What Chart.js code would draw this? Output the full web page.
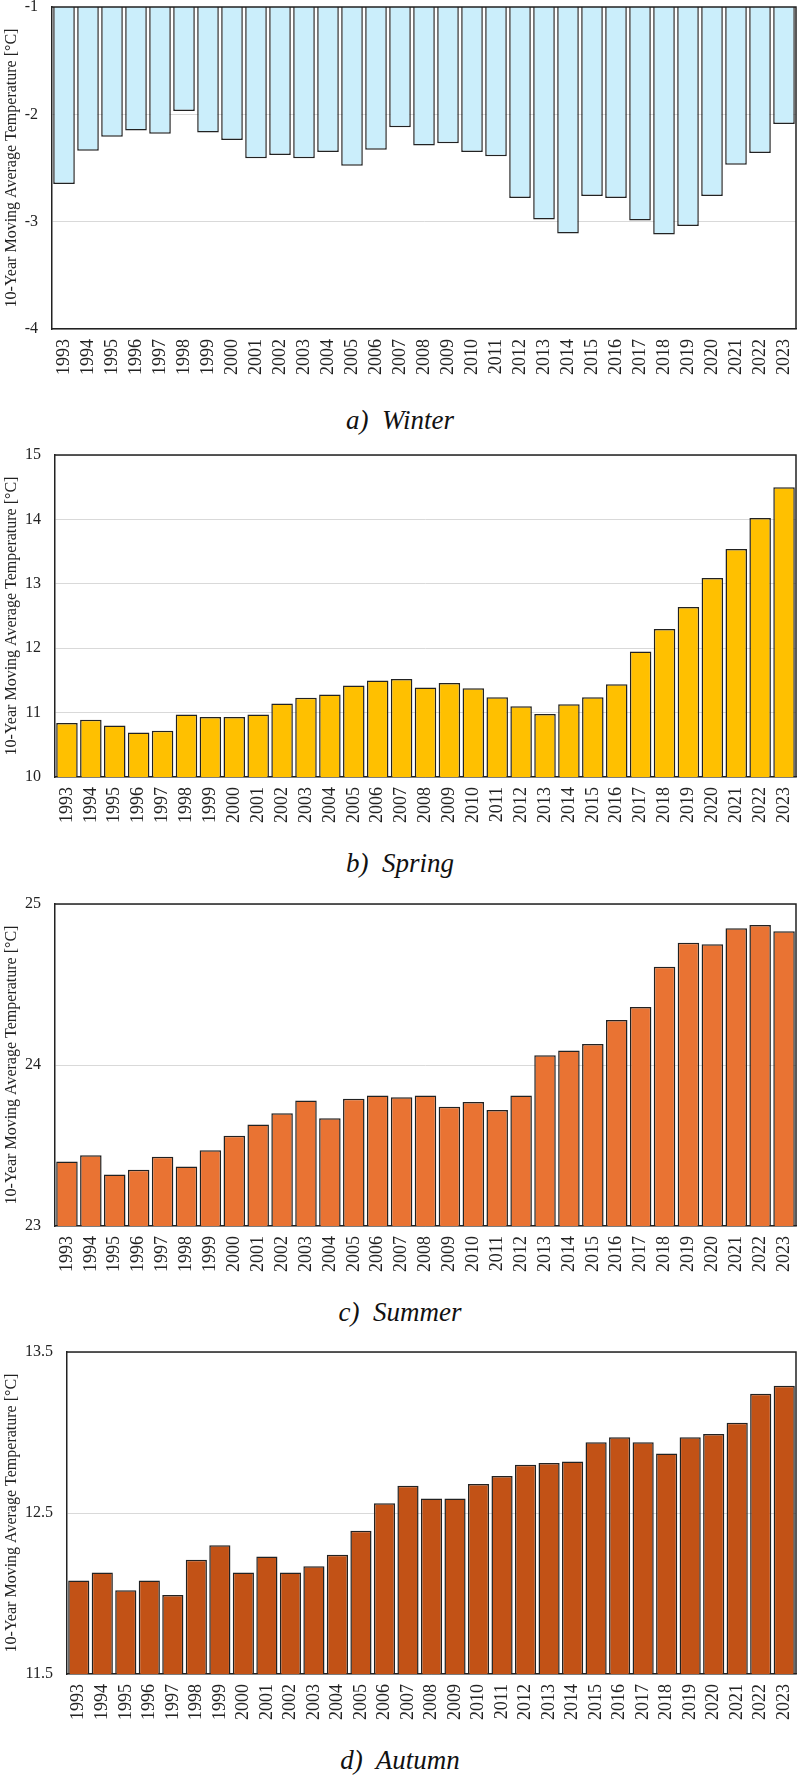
<!DOCTYPE html>
<html lang="en">
<head>
    <meta charset="UTF-8">
    <title>10-Year Moving Average Temperature by Season</title>
    <style>
        body {
            margin: 0;
            padding: 0;
            background: #fff;
            width: 800px;
            height: 1776px;
            position: relative;
            overflow: hidden;
        }
        .panel {
            position: absolute;
            left: 0;
        }
        .caption {
            position: absolute;
            left: 0;
            width: 800px;
            text-align: center;
            font-family: "Liberation Serif", "Times New Roman", serif;
            font-style: italic;
            font-size: 27px;
            line-height: 30px;
            color: #111;
            white-space: pre;
        }
    </style>
    <script src="https://cdn.jsdelivr.net/npm/chart.js"></script>
</head>
<body>

    <canvas id="winterChart" class="panel" width="800" height="389" style="top:0px"></canvas>
    <div class="caption" style="top:405px">a)  Winter</div>

    <canvas id="springChart" class="panel" width="800" height="389" style="top:448px"></canvas>
    <div class="caption" style="top:848px">b)  Spring</div>

    <canvas id="summerChart" class="panel" width="800" height="389" style="top:897px"></canvas>
    <div class="caption" style="top:1297px">c)  Summer</div>

    <canvas id="autumnChart" class="panel" width="800" height="389" style="top:1345px"></canvas>
    <div class="caption" style="top:1745px">d)  Autumn</div>

    <script>
        // Data
        const years = ['1993', '1994', '1995', '1996', '1997', '1998', '1999', '2000', '2001', '2002',
            '2003', '2004', '2005', '2006', '2007', '2008', '2009', '2010', '2011', '2012',
            '2013', '2014', '2015', '2016', '2017', '2018', '2019', '2020', '2021', '2022', '2023'];

        const winterValues = [-2.65, -2.34, -2.21, -2.15, -2.18, -1.97, -2.17, -2.24, -2.41, -2.38,
            -2.41, -2.35, -2.48, -2.33, -2.12, -2.29, -2.27, -2.35, -2.39, -2.78,
            -2.98, -3.11, -2.76, -2.78, -2.99, -3.12, -3.04, -2.76, -2.47, -2.36, -2.09];

        const springValues = [10.84, 10.89, 10.80, 10.69, 10.72, 10.97, 10.93, 10.93, 10.97, 11.14,
            11.23, 11.28, 11.42, 11.50, 11.52, 11.39, 11.46, 11.38, 11.24, 11.10,
            10.98, 11.13, 11.24, 11.44, 11.95, 12.30, 12.64, 13.09, 13.54, 14.02, 14.50];

        const summerValues = [23.40, 23.44, 23.32, 23.35, 23.43, 23.37, 23.47, 23.56, 23.63, 23.70,
            23.78, 23.67, 23.79, 23.81, 23.80, 23.81, 23.74, 23.77, 23.72, 23.81,
            24.06, 24.09, 24.13, 24.28, 24.36, 24.61, 24.76, 24.75, 24.85, 24.87, 24.83];

        const autumnValues = [12.08, 12.13, 12.02, 12.08, 11.99, 12.21, 12.30, 12.13, 12.23, 12.13,
            12.17, 12.24, 12.39, 12.56, 12.67, 12.59, 12.59, 12.68, 12.73, 12.80,
            12.81, 12.82, 12.94, 12.97, 12.94, 12.87, 12.97, 12.99, 13.06, 13.24, 13.29];

        // y-axis tick labels for each panel
        const winterTicks = [-4, -3, -2, -1];
        const springTicks = [10, 11, 12, 13, 14, 15];
        const summerTicks = [23, 24, 25];
        const autumnTicks = [11.5, 12.5, 13.5];

        const yTitle = '10-Year Moving Average Temperature [°C]';
        const serif = "'Liberation Serif', 'Times New Roman', serif";
        Chart.defaults.font.family = serif;

        // draws the top and right edges of the plot frame
        const frame = {
            id: 'frame',
            afterDraw(chart) {
                const a = chart.chartArea;
                const c = chart.ctx;
                c.save();
                c.strokeStyle = '#222';
                c.lineWidth = 1.5;
                c.beginPath();
                c.moveTo(a.left, a.top);
                c.lineTo(a.right, a.top);
                c.lineTo(a.right, a.bottom);
                c.stroke();
                c.restore();
            }
        };

        function makeChart(id, values, ticks, fill, leftWidth) {
            const step = ticks[1] - ticks[0];
            return new Chart(document.getElementById(id), {
                type: 'bar',
                data: {
                    labels: years,
                    datasets: [{
                        data: values,
                        backgroundColor: fill,
                        borderColor: '#222',
                        borderWidth: 1.5,
                        categoryPercentage: 1.0,
                        barPercentage: 0.9
                    }]
                },
                options: {
                    responsive: false,
                    animation: false,
                    layout: { padding: { top: 7, right: 4, left: 0, bottom: 0 } },
                    plugins: { legend: { display: false }, tooltip: { enabled: false } },
                    scales: {
                        x: {
                            afterFit(axis) {
                                axis.height = 60;
                                axis.paddingLeft = 0;
                                axis.paddingRight = 0;
                            },
                            grid: { display: false, drawTicks: false },
                            border: { display: true, color: '#222', width: 1.5 },
                            ticks: {
                                minRotation: 90,
                                maxRotation: 90,
                                autoSkip: false,
                                padding: 10,
                                color: '#222',
                                font: { family: serif, size: 18 }
                            }
                        },
                        y: {
                            min: ticks[0],
                            max: ticks[ticks.length - 1],
                            afterFit(axis) {
                                axis.width = leftWidth;
                                axis.paddingTop = 0;
                                axis.paddingBottom = 0;
                            },
                            grid: { color: '#d9d9d9', lineWidth: 1, drawTicks: false },
                            border: { display: true, color: '#222', width: 1.5 },
                            ticks: {
                                stepSize: step,
                                padding: 14,
                                color: '#222',
                                font: { family: serif, size: 16 }
                            },
                            title: {
                                display: true,
                                text: yTitle,
                                color: '#222',
                                padding: 2,
                                font: { family: serif, size: 16 }
                            }
                        }
                    }
                },
                plugins: [frame]
            });
        }

        makeChart('winterChart', winterValues, winterTicks, '#cbeefb', 52);
        makeChart('springChart', springValues, springTicks, '#ffc000', 55);
        makeChart('summerChart', summerValues, summerTicks, '#e97333', 55);
        makeChart('autumnChart', autumnValues, autumnTicks, '#c25216', 67);
    </script>

</body>
</html>
